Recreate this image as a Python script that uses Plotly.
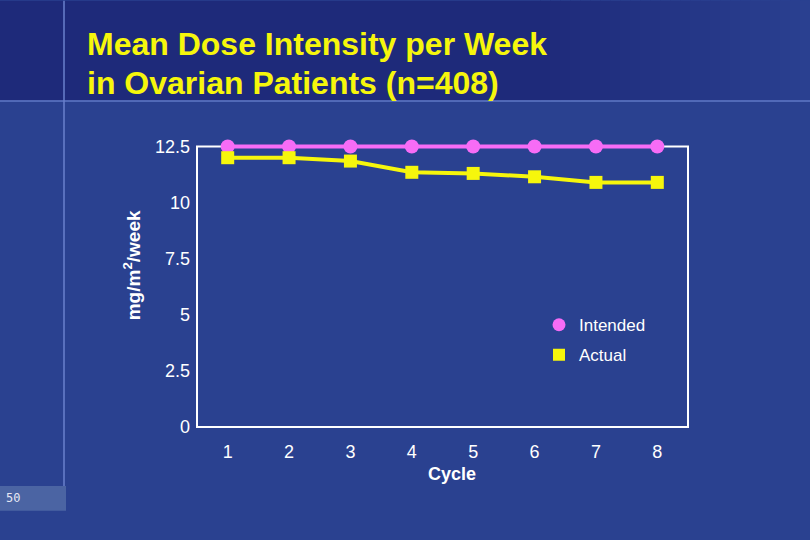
import plotly.graph_objects as go

# ---- data ----
cycles = [1, 2, 3, 4, 5, 6, 7, 8]
intended = [12.5, 12.5, 12.5, 12.5, 12.5, 12.5, 12.5, 12.5]
actual = [12.0, 12.0, 11.85, 11.35, 11.3, 11.15, 10.9, 10.9]
y_tickvals = [0, 2.5, 5, 7.5, 10, 12.5]
y_ticktext = ["0", "2.5", "5", "7.5", "10", "12.5"]
x_ticktext = ["1", "2", "3", "4", "5", "6", "7", "8"]
title_lines = ["Mean Dose Intensity per Week", "in Ovarian Patients (n=408)"]

W, H = 810, 540
L, R, B = 197, 688, 427          # plot area edges in pixels
FRAME_TOP = 146                  # pixel row of the value 12.5 (frame top)
YMAX = 12.7                      # a little headroom so the top line is not clipped
scale = (B - FRAME_TOP) / 12.5
T = B - YMAX * scale             # top of the plot area

def px(x):
    return (x - L) / (R - L)

def py(y):
    return (B - y) / (B - T)

PINK = "#f76cf6"
YELLOW = "#f6f60c"
BG = "#2a4190"
FONT = "Liberation Sans, Arial, sans-serif"

fig = go.Figure()
fig.add_trace(go.Scatter(x=cycles, y=intended, mode="lines+markers", showlegend=False,
                         line=dict(color=PINK, width=4),
                         marker=dict(symbol="circle", size=14, color=PINK), cliponaxis=False))
fig.add_trace(go.Scatter(x=cycles, y=actual, mode="lines+markers", showlegend=False,
                         line=dict(color=YELLOW, width=4),
                         marker=dict(symbol="square", size=13, color=YELLOW), cliponaxis=False))
# legend-only entries (marker only)
fig.add_trace(go.Scatter(x=[None], y=[None], mode="markers", name="Intended", legendgroup="a",
                         marker=dict(symbol="circle", size=13, color=PINK)))
fig.add_trace(go.Scatter(x=[None], y=[None], mode="markers", name="Actual", legendgroup="b",
                         marker=dict(symbol="square", size=12, color=YELLOW)))

shapes = []
# top band (decoration): dark navy, brightening toward the right edge
dark = (0x1e, 0x2a, 0x7a)
light = (0x2a, 0x40, 0x90)
shapes.append(dict(type="rect", xref="paper", yref="paper", layer="below",
                   x0=px(0), x1=px(541), y0=py(0), y1=py(100),
                   fillcolor="#%02x%02x%02x" % dark, line=dict(width=0)))
nstrip = 27
for i in range(nstrip):
    t = (i + 0.5) / nstrip
    c = tuple(round(dark[k] + (light[k] - dark[k]) * t) for k in range(3))
    x0 = 540 + i * 10
    shapes.append(dict(type="rect", xref="paper", yref="paper", layer="below",
                       x0=px(x0), x1=px(x0 + 11), y0=py(0), y1=py(100),
                       fillcolor="#%02x%02x%02x" % c, line=dict(width=0)))
# slide guide lines
shapes.append(dict(type="line", xref="paper", yref="paper", layer="below",
                   x0=px(0), x1=px(W), y0=py(100.5), y1=py(100.5),
                   line=dict(color="#5f78c6", width=1.5)))
shapes.append(dict(type="line", xref="paper", yref="paper", layer="below",
                   x0=px(64), x1=px(64), y0=py(0), y1=py(486),
                   line=dict(color="#6a80cc", width=1.5)))
# page number box
shapes.append(dict(type="rect", xref="paper", yref="paper", layer="below",
                   x0=px(0), x1=px(66), y0=py(486), y1=py(511),
                   fillcolor="#4b64a3", line=dict(width=0)))
# chart frame (below the traces)
shapes.append(dict(type="rect", xref="paper", yref="paper", layer="below",
                   x0=px(L), x1=px(R), y0=py(B), y1=py(FRAME_TOP),
                   fillcolor="rgba(0,0,0,0)", line=dict(color="white", width=2)))

annotations = [
    dict(text=title_lines[0], xref="paper", yref="paper", x=px(85), y=py(43),
         xanchor="left", yanchor="middle", showarrow=False,
         font=dict(family=FONT, size=32, color=YELLOW, weight="bold")),
    dict(text=title_lines[1], xref="paper", yref="paper", x=px(85), y=py(82),
         xanchor="left", yanchor="middle", showarrow=False,
         font=dict(family=FONT, size=32, color=YELLOW, weight="bold")),
    dict(text="mg/m<sup>2</sup>/week", xref="paper", yref="paper", x=px(132), y=py(265),
         xanchor="center", yanchor="middle", showarrow=False, textangle=-90,
         font=dict(family=FONT, size=19, color="white", weight="bold")),
    dict(text="Cycle", xref="paper", yref="paper", x=px(452), y=py(474),
         xanchor="center", yanchor="middle", showarrow=False,
         font=dict(family=FONT, size=18, color="white", weight="bold")),
    dict(text="50", xref="paper", yref="paper", x=px(13), y=py(498),
         xanchor="center", yanchor="middle", showarrow=False,
         font=dict(family="DejaVu Sans Mono, monospace", size=12, color="#e6e8f4")),
]

fig.update_layout(
    width=W, height=H,
    margin=dict(l=L, r=W - R, t=T, b=H - B, pad=0),
    paper_bgcolor=BG, plot_bgcolor="rgba(0,0,0,0)",
    font=dict(family=FONT, size=18, color="white"),
    shapes=shapes, annotations=annotations,
    legend=dict(x=px(539), y=py(307), xanchor="left", yanchor="top",
                bgcolor="rgba(0,0,0,0)", font=dict(size=17, color="white"),
                itemwidth=30, tracegroupgap=5),
    showlegend=True,
)
fig.update_xaxes(range=[0.5, 8.5], tickvals=cycles, ticktext=x_ticktext,
                 showgrid=False, zeroline=False, showline=False, ticks="",
                 ticklabelstandoff=12, tickfont=dict(size=18, color="white"))
fig.update_yaxes(range=[0, YMAX], tickvals=y_tickvals, ticktext=y_ticktext,
                 showgrid=False, zeroline=False, showline=False, ticks="",
                 ticklabelstandoff=6, tickfont=dict(size=18, color="white"))

fig.write_html("out.html", config={"displayModeBar": False},
               post_script="document.body.style.margin='0';")
